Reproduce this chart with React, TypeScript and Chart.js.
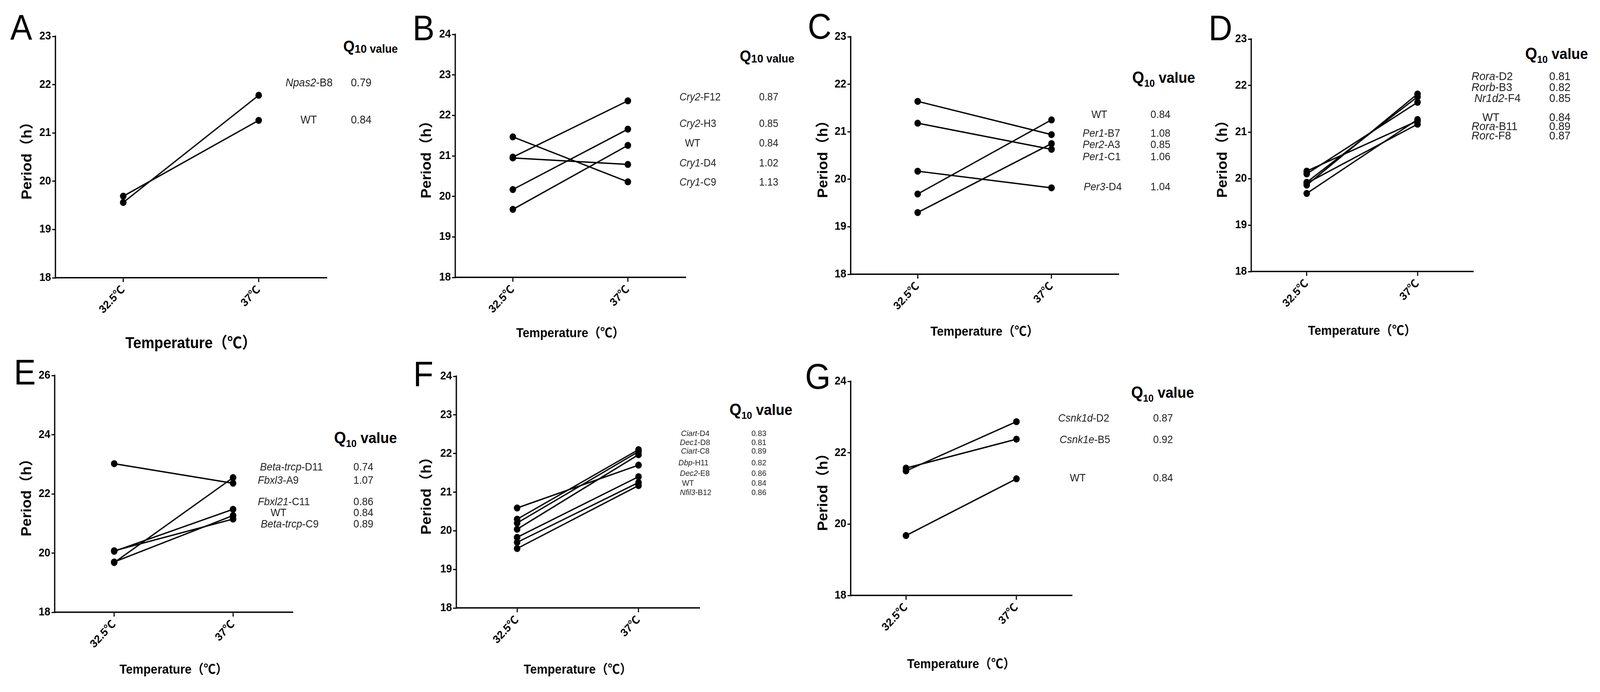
import { useEffect, useRef } from "react";
import { Chart, registerables } from "chart.js";

Chart.register(...registerables);

const FONT = "'Liberation Sans', Arial, 'Noto Sans CJK SC', sans-serif";
const PAGE_W = 4382;
const PAGE_H = 1771;

// categorias (temperaturas)
const temps = ["32.5℃", "37℃"];

// A
const aGenes = ["Npas2-B8", "WT"];
const aQ10 = ["0.79", "0.84"];
const aAt325 = [19.56, 19.69];
const aAt37 = [21.78, 21.26];

// B
const bGenes = ["Cry2-F12", "Cry2-H3", "WT", "Cry1-D4", "Cry1-C9"];
const bQ10 = ["0.87", "0.85", "0.84", "1.02", "1.13"];
const bAt325 = [20.97, 20.17, 19.68, 20.95, 21.47];
const bAt37 = [22.36, 21.66, 21.26, 20.79, 20.36];

// C
const cGenes = ["WT", "Per1-B7", "Per2-A3", "Per1-C1", "Per3-D4"];
const cQ10 = ["0.84", "1.08", "0.85", "1.06", "1.04"];
const cAt325 = [19.69, 21.64, 19.3, 21.18, 20.17];
const cAt37 = [21.25, 20.94, 20.75, 20.63, 19.82];

// D
const dGenes = ["Rora-D2", "Rorb-B3", "Nr1d2-F4", "WT", "Rora-B11", "Rorc-F8"];
const dQ10 = ["0.81", "0.82", "0.85", "0.84", "0.89", "0.87"];
const dAt325 = [19.86, 19.92, 20.1, 19.68, 20.16, 19.9];
const dAt37 = [21.82, 21.76, 21.64, 21.27, 21.24, 21.17];

// E
const eGenes = ["Beta-trcp-D11", "Fbxl3-A9", "Fbxl21-C11", "WT", "Beta-trcp-C9"];
const eQ10 = ["0.74", "1.07", "0.86", "0.84", "0.89"];
const eAt325 = [19.68, 23.02, 20.06, 19.7, 20.08];
const eAt37 = [22.55, 22.36, 21.48, 21.27, 21.15];

// F
const fGenes = ["Ciart-D4", "Dec1-D8", "Ciart-C8", "Dbp-H11", "Dec2-E8", "WT", "Nfil3-B12"];
const fQ10 = ["0.83", "0.81", "0.89", "0.82", "0.86", "0.84", "0.86"];
const fAt325 = [20.3, 20.04, 20.59, 20.2, 19.54, 19.7, 19.83];
const fAt37 = [22.1, 21.97, 21.7, 22.05, 21.17, 21.25, 21.4];

// G
const gGenes = ["Csnk1d-D2", "Csnk1e-B5", "WT"];
const gQ10 = ["0.87", "0.92", "0.84"];
const gAt325 = [21.49, 21.57, 19.68];
const gAt37 = [22.87, 22.38, 21.27];

type Box = {
  L: number;
  T: number;
  R: number;
  B: number;
  yMax: number;
  step: number;
  yTitleX: number;
  xTitleY: number;
  xTitleSize: number;
};

type TableLayout = {
  x: number;
  cy: number;
  sub: boolean;
  labelX: number[];
  rowY: number[];
  valueX: number;
  fs: number;
};

function PeriodPanel({ box, at325, at37 }: { box: Box; at325: number[]; at37: number[] }) {
  const canvasRef = useRef<HTMLCanvasElement>(null);
  const padTop = 22;
  const padRight = 12;
  const yTitleSize = 38;
  const yLh = yTitleSize * 1.2;
  const xLh = box.xTitleSize * 1.2;
  const axisW = Math.round(box.L - box.yTitleX + yLh / 2);
  const left = box.L - axisW;
  const top = box.T - padTop;
  const bottom = Math.round(box.xTitleY + xLh / 2);
  const axisH = bottom - box.B;
  const width = box.R + padRight - left;
  const height = bottom - top;

  useEffect(() => {
    if (!canvasRef.current) return;
    const ctx = canvasRef.current.getContext("2d");
    if (!ctx) return;

    const tickFont = { family: FONT, size: 29, weight: "bold" as const };

    const chart = new Chart(ctx, {
      type: "line",
      data: {
        labels: temps,
        datasets: at325.map((v, i) => ({
          data: [v, at37[i]],
          borderColor: "#000",
          backgroundColor: "#000",
          borderWidth: 3.5,
          pointRadius: 9,
          pointBorderWidth: 0,
          pointBackgroundColor: "#000",
          tension: 0,
          clip: false as const,
        })),
      },
      options: {
        animation: false,
        responsive: false,
        events: [],
        layout: { padding: { top: padTop, right: padRight, left: 0, bottom: 0 } },
        plugins: { legend: { display: false }, tooltip: { enabled: false } },
        scales: {
          x: {
            type: "category",
            offset: true,
            grid: {
              display: true,
              drawOnChartArea: false,
              drawTicks: true,
              tickLength: 11,
              color: "#000",
              lineWidth: 3,
              offset: false,
            },
            border: { display: true, color: "#000", width: 3.5 },
            ticks: {
              color: "#000",
              font: tickFont,
              minRotation: 45,
              maxRotation: 45,
              autoSkip: false,
              padding: 3,
            },
            title: {
              display: true,
              text: "Temperature（℃）",
              color: "#000",
              font: { family: FONT, size: box.xTitleSize, weight: "bold", lineHeight: 1.2 },
              padding: 0,
            },
            afterFit: (s: any) => {
              s.height = axisH;
            },
          },
          y: {
            min: 18,
            max: box.yMax,
            grid: {
              display: true,
              drawOnChartArea: false,
              drawTicks: true,
              tickLength: 9,
              color: "#000",
              lineWidth: 3,
            },
            border: { display: true, color: "#000", width: 3.5 },
            ticks: { stepSize: box.step, color: "#000", font: tickFont, padding: 3 },
            title: {
              display: true,
              text: "Period（h）",
              color: "#000",
              font: { family: FONT, size: yTitleSize, weight: "bold", lineHeight: 1.2 },
              padding: 0,
            },
            afterFit: (s: any) => {
              s.width = axisW;
            },
          },
        },
      },
    });

    return () => {
      chart.destroy();
    };
  }, []);

  return (
    <canvas
      ref={canvasRef}
      width={width}
      height={height}
      style={{ position: "absolute", left, top, width, height }}
    />
  );
}

function GeneName({ name }: { name: string }) {
  if (name === "WT") return <>WT</>;
  const k = name.lastIndexOf("-");
  return (
    <>
      <i>{name.slice(0, k)}</i>
      {name.slice(k)}
    </>
  );
}

function Q10Table({ genes, q10, lay }: { genes: string[]; q10: string[]; lay: TableLayout }) {
  const qSize = lay.sub ? 42 : 40;
  const rowStyle = (x: number, cy: number) => ({
    position: "absolute" as const,
    left: x,
    top: cy - lay.fs * 0.6,
    fontSize: lay.fs,
    lineHeight: 1.2,
    whiteSpace: "nowrap" as const,
    color: "#222",
  });
  return (
    <>
      <div
        style={{
          position: "absolute",
          left: lay.x,
          top: lay.cy - qSize * 0.6,
          fontSize: qSize,
          lineHeight: 1.2,
          fontWeight: "bold",
          whiteSpace: "nowrap",
        }}
      >
        Q
        {lay.sub ? (
          <>
            <span style={{ fontSize: 26, position: "relative", top: 10 }}>10</span>
            <span style={{ fontSize: 39 }}> value</span>
          </>
        ) : (
          <span style={{ fontSize: 30, position: "relative", top: 3 }}>10 value</span>
        )}
      </div>
      {genes.map((g, i) => (
        <div key={g}>
          <div style={rowStyle(lay.labelX[i], lay.rowY[i])}>
            <GeneName name={g} />
          </div>
          <div style={rowStyle(lay.valueX, lay.rowY[i])}>{q10[i]}</div>
        </div>
      ))}
    </>
  );
}

function PanelLetter({ text, x, cy }: { text: string; x: number; cy: number }) {
  const fs = 90;
  return (
    <div
      style={{
        position: "absolute",
        left: x,
        top: cy - fs * 0.6,
        fontSize: fs,
        lineHeight: 1.2,
        color: "#000",
      }}
    >
      {text}
    </div>
  );
}

const boxA: Box = { L: 152, T: 93, R: 894, B: 711, yMax: 23, step: 1, yTitleX: 76, xTitleY: 880, xTitleSize: 40 };
const boxB: Box = { L: 1247, T: 88, R: 1877, B: 710, yMax: 24, step: 1, yTitleX: 1170, xTitleY: 854, xTitleSize: 33 };
const boxC: Box = { L: 2330, T: 94, R: 3063, B: 702, yMax: 23, step: 1, yTitleX: 2256, xTitleY: 850, xTitleSize: 33 };
const boxD: Box = { L: 3427, T: 100, R: 4034, B: 695, yMax: 23, step: 1, yTitleX: 3350, xTitleY: 848, xTitleSize: 33 };
const boxE: Box = { L: 150, T: 961, R: 801, B: 1567, yMax: 26, step: 2, yTitleX: 75, xTitleY: 1715, xTitleSize: 33 };
const boxF: Box = { L: 1250, T: 963, R: 1915, B: 1556, yMax: 24, step: 1, yTitleX: 1170, xTitleY: 1715, xTitleSize: 33 };
const boxG: Box = { L: 2330, T: 976, R: 2935, B: 1524, yMax: 24, step: 2, yTitleX: 2256, xTitleY: 1701, xTitleSize: 33 };

const layA: TableLayout = { x: 940, cy: 118, sub: false, labelX: [782, 823], rowY: [211, 306], valueX: 961, fs: 29 };
const layB: TableLayout = {
  x: 2026, cy: 143, sub: false,
  labelX: [1861, 1861, 1876, 1861, 1861], rowY: [248, 316, 366, 417, 466], valueX: 2079, fs: 27,
};
const layC: TableLayout = {
  x: 3101, cy: 198, sub: true,
  labelX: [2989, 2965, 2965, 2965, 2968], rowY: [293, 341, 370, 401, 478], valueX: 3151, fs: 28,
};
const layD: TableLayout = {
  x: 4177, cy: 137, sub: true,
  labelX: [4030, 4030, 4038, 4060, 4030, 4030], rowY: [195, 223, 251, 300, 323, 347], valueX: 4243, fs: 30,
};
const layE: TableLayout = {
  x: 915, cy: 1120, sub: true,
  labelX: [712, 706, 706, 741, 714], rowY: [1195, 1229, 1284, 1312, 1341], valueX: 968, fs: 28,
};
const layF: TableLayout = {
  x: 1998, cy: 1048, sub: true,
  labelX: [1865, 1862, 1865, 1858, 1862, 1868, 1862],
  rowY: [1109, 1132, 1154, 1184, 1211, 1236, 1260], valueX: 2058, fs: 21,
};
const layG: TableLayout = {
  x: 3098, cy: 1004, sub: true,
  labelX: [2898, 2902, 2930], rowY: [1070, 1125, 1223], valueX: 3158, fs: 28,
};

export default function App() {
  // fit the full figure into whatever viewport the page actually gets
  const vw = typeof window !== "undefined" ? window.innerWidth : PAGE_W;
  const vh = typeof window !== "undefined" ? window.innerHeight : PAGE_H;
  const sx = Math.min(1, vw / PAGE_W);
  const sy = Math.min(1, vh / PAGE_H);

  return (
    <div
      style={{
        position: "fixed",
        left: 0,
        top: 0,
        right: 0,
        bottom: 0,
        overflow: "hidden",
        background: "#fff",
      }}
    >
      <div
        style={{
          position: "absolute",
          left: 0,
          top: 0,
          width: PAGE_W,
          height: PAGE_H,
          background: "#fff",
          overflow: "hidden",
          fontFamily: FONT,
          color: "#000",
          transform: `scale(${sx}, ${sy})`,
          transformOrigin: "0 0",
        }}
      >
        <PeriodPanel box={boxA} at325={aAt325} at37={aAt37} />
        <PeriodPanel box={boxB} at325={bAt325} at37={bAt37} />
        <PeriodPanel box={boxC} at325={cAt325} at37={cAt37} />
        <PeriodPanel box={boxD} at325={dAt325} at37={dAt37} />
        <PeriodPanel box={boxE} at325={eAt325} at37={eAt37} />
        <PeriodPanel box={boxF} at325={fAt325} at37={fAt37} />
        <PeriodPanel box={boxG} at325={gAt325} at37={gAt37} />

        <Q10Table genes={aGenes} q10={aQ10} lay={layA} />
        <Q10Table genes={bGenes} q10={bQ10} lay={layB} />
        <Q10Table genes={cGenes} q10={cQ10} lay={layC} />
        <Q10Table genes={dGenes} q10={dQ10} lay={layD} />
        <Q10Table genes={eGenes} q10={eQ10} lay={layE} />
        <Q10Table genes={fGenes} q10={fQ10} lay={layF} />
        <Q10Table genes={gGenes} q10={gQ10} lay={layG} />

        <PanelLetter text="A" x={28} cy={70} />
        <PanelLetter text="B" x={1130} cy={72} />
        <PanelLetter text="C" x={2212} cy={68} />
        <PanelLetter text="D" x={3310} cy={72} />
        <PanelLetter text="E" x={38} cy={953} />
        <PanelLetter text="F" x={1132} cy={957} />
        <PanelLetter text="G" x={2205} cy={964} />
      </div>
    </div>
  );
}
